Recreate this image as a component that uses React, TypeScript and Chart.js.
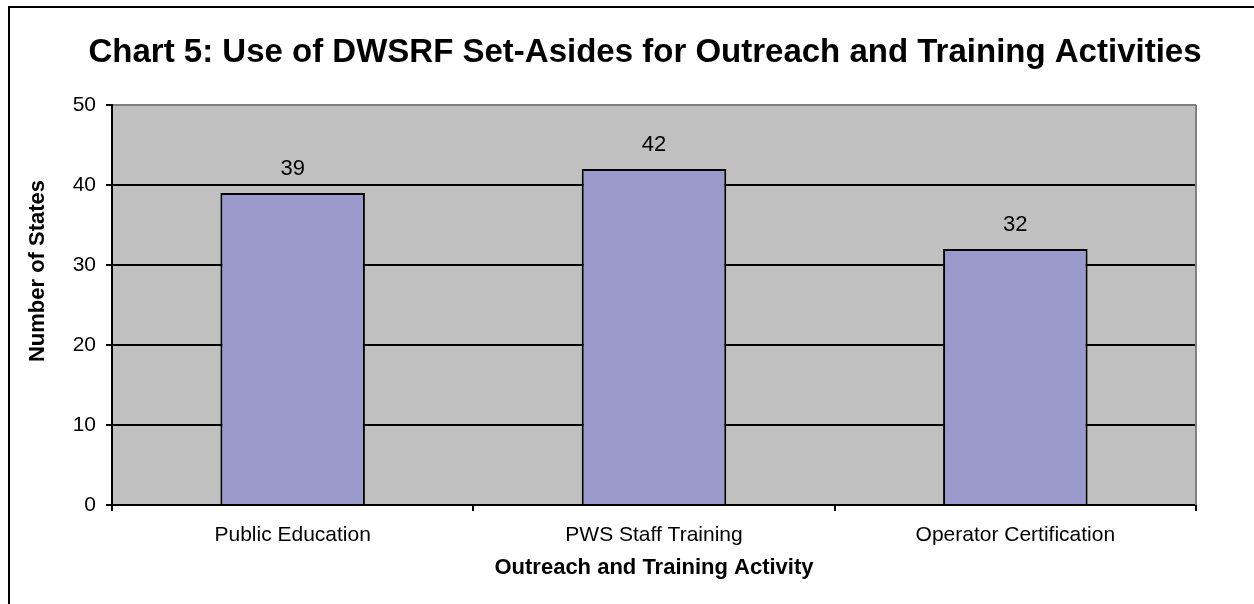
import React, { useEffect, useRef } from "react";
import { Chart, registerables } from "chart.js";

Chart.register(...registerables);

const chartTitle = "Chart 5: Use of DWSRF Set-Asides for Outreach and Training Activities";
const categories = ["Public Education", "PWS Staff Training", "Operator Certification"];
const stateCounts = [39, 42, 32];
const yTicks = [0, 10, 20, 30, 40, 50];
const yAxisTitle = "Number of States";
const xAxisTitle = "Outreach and Training Activity";

const FONT = "'Liberation Sans', Arial, Helvetica, sans-serif";

const decorPlugin = {
  id: "decor",
  beforeDraw(chart: any) {
    const { ctx, chartArea } = chart;
    ctx.save();
    ctx.fillStyle = "#C0C0C0";
    ctx.fillRect(chartArea.left, chartArea.top, chartArea.right - chartArea.left, chartArea.bottom - chartArea.top);
    ctx.restore();
  },
  beforeDatasetsDraw(chart: any) {
    const { ctx, chartArea } = chart;
    ctx.save();
    ctx.strokeStyle = "#808080";
    ctx.lineWidth = 2;
    ctx.beginPath();
    ctx.moveTo(chartArea.right, chartArea.top);
    ctx.lineTo(chartArea.right, chartArea.bottom);
    ctx.stroke();
    ctx.restore();
  },
  afterDatasetsDraw(chart: any) {
    const { ctx } = chart;
    const meta = chart.getDatasetMeta(0);
    const data = chart.data.datasets[0].data;
    ctx.save();
    ctx.fillStyle = "#000";
    ctx.font = `22px ${FONT}`;
    ctx.textAlign = "center";
    ctx.textBaseline = "alphabetic";
    meta.data.forEach((el: any, i: number) => {
      ctx.fillText(String(data[i]), el.x, el.y - 18);
    });
    ctx.restore();
  },
  afterDraw(chart: any) {
    const { ctx, chartArea } = chart;
    ctx.save();
    ctx.fillStyle = "#000";
    ctx.textBaseline = "alphabetic";
    ctx.textAlign = "center";
    ctx.font = `bold 33px ${FONT}`;
    ctx.fillText(chartTitle, 645, 62);
    ctx.font = `bold 22px ${FONT}`;
    ctx.fillText(xAxisTitle, (chartArea.left + chartArea.right) / 2, 574);
    ctx.translate(44, 271);
    ctx.rotate(-Math.PI / 2);
    ctx.fillText(yAxisTitle, 0, 0);
    ctx.restore();
  },
};

export default function App() {
  const ref = useRef<HTMLCanvasElement | null>(null);
  useEffect(() => {
    if (!ref.current) return;
    const chart = new Chart(ref.current, {
      type: "bar",
      data: {
        labels: categories,
        datasets: [
          {
            data: stateCounts,
            backgroundColor: "#9999CC",
            borderColor: "#000000",
            borderWidth: 2,
            barPercentage: 0.4,
            categoryPercentage: 1,
          },
        ],
      },
      options: {
        responsive: false,
        animation: false,
        devicePixelRatio: 1,
        layout: { padding: { top: 105, right: 58, left: 0, bottom: 0 } },
        plugins: { legend: { display: false }, tooltip: { enabled: false }, title: { display: false } },
        scales: {
          x: {
            afterFit: (s: any) => {
              s.height = 99;
            },
            grid: {
              offset: true,
              drawOnChartArea: false,
              drawTicks: true,
              tickLength: 6,
              color: "#000",
              lineWidth: 2,
            },
            border: { display: true, color: "#000", width: 2 },
            ticks: { color: "#000", font: { family: FONT, size: 21 }, padding: 12, maxRotation: 0 },
          },
          y: {
            min: 0,
            max: 50,
            afterFit: (s: any) => {
              s.width = 112;
            },
            afterBuildTicks: (s: any) => {
              s.ticks = yTicks.map((v) => ({ value: v }));
            },
            grid: {
              color: (c: any) => (c.tick && c.tick.value === 50 ? "#808080" : "#000"),
              tickColor: "#000",
              lineWidth: 2,
              drawTicks: true,
              tickLength: 6,
            },
            border: { display: true, color: "#000", width: 2 },
            ticks: { color: "#000", font: { family: FONT, size: 21 }, padding: 10 },
          },
        },
      },
      plugins: [decorPlugin],
    });
    return () => chart.destroy();
  }, []);

  return (
    <div style={{ position: "fixed", left: 0, top: 0, width: 1254, height: 604, overflow: "hidden", background: "#fff" }}>
      <div
        style={{
          position: "absolute",
          left: 8,
          top: 6,
          width: 2000,
          height: 2000,
          borderTop: "2px solid #000",
          borderLeft: "2px solid #000",
        }}
      />
      <canvas ref={ref} width={1254} height={604} style={{ position: "absolute", left: 0, top: 0, width: 1254, height: 604 }} />
    </div>
  );
}
